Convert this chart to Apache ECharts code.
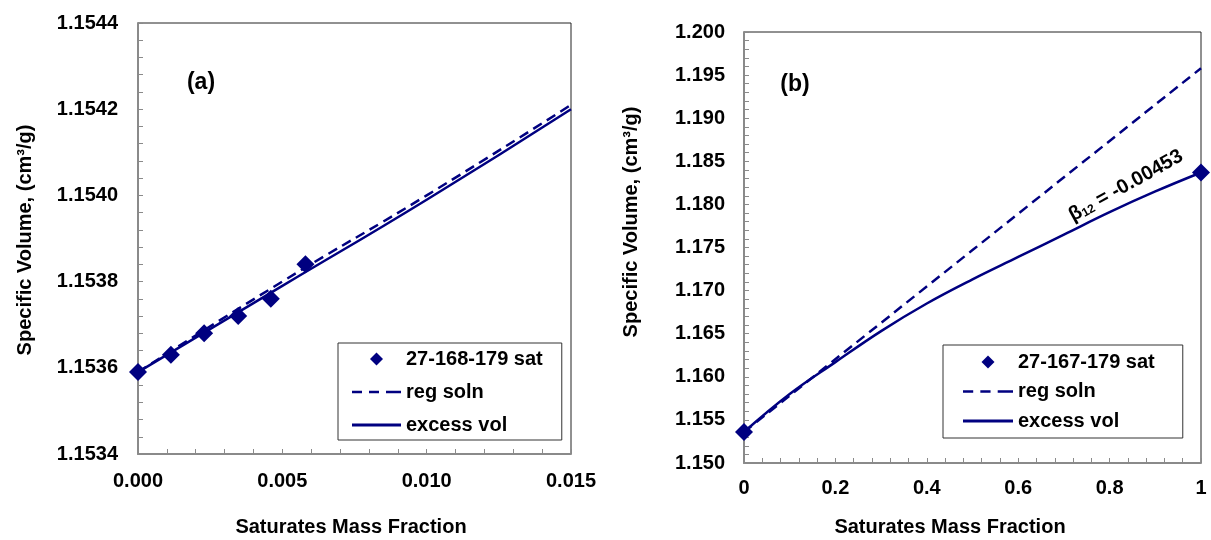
<!DOCTYPE html>
<html>
<head>
<meta charset="utf-8">
<script src="https://cdn.jsdelivr.net/npm/echarts@6/dist/echarts.min.js"></script>
<style>
html,body{margin:0;padding:0;background:#fff;}
#chart{width:1211px;height:540px;}
</style>
</head>
<body>
<div id="chart"></div>
<script>
// ---- Panel (a) data ----
const aSatX = [0, 0.00114, 0.00229, 0.00347, 0.0046, 0.0058];
const aSatY = [1.15359, 1.15363, 1.15368, 1.15372, 1.15376, 1.15384];
const aRegX = [0, 0.005, 0.010, 0.015];
const aRegY = [1.15359, 1.15380, 1.15400, 1.15421];
const aExcX = [0, 0.005, 0.010, 0.015];
const aExcY = [1.15359, 1.15379, 1.15399, 1.15420];
const aYTicks = [1.1534, 1.1536, 1.1538, 1.1540, 1.1542, 1.1544];
const aXTicks = [0, 0.005, 0.010, 0.015];

// ---- Panel (b) data ----
const bSatX = [0, 1];
const bSatY = [1.1536, 1.1837];
const bRegX = [0, 0.5, 1];
const bRegY = [1.1536, 1.1747, 1.1958];
const bExcX = [0, 0.1, 0.2, 0.3, 0.4, 0.5, 0.6, 0.7, 0.8, 0.9, 1.0];
const bExcY = [1.1536, 1.1580, 1.1617, 1.1653, 1.1685, 1.1713, 1.1739, 1.1765, 1.1791, 1.1815, 1.1837];
const bYTicks = [1.150, 1.155, 1.160, 1.165, 1.170, 1.175, 1.180, 1.185, 1.190, 1.195, 1.200];
const bXTicks = [0, 0.2, 0.4, 0.6, 0.8, 1];

const nameA = '27-168-179 sat';
const nameB = '27-167-179 sat';
const regName = 'reg soln';
const excName = 'excess vol';

const zip = (xs, ys) => xs.map((x, i) => [x, ys[i]]);
const FONT = "'Liberation Sans', Arial, sans-serif";
const NAVY = '#000080';

// legend icons
const ICON_DIAMOND = 'path://M0,-1L1,0L0,1L-1,0Z';
const ICON_DASH = 'path://M0,0h10v2.6h-10z M17,0h10v2.6h-10z M34,0h15v2.6h-15z';
const ICON_SOLID = 'path://M0,0h49v2.8h-49z';

function xAxisCfg(idx, min, max, interval, fmt, margin) {
  return {
    gridIndex: idx, type: 'value', min: min, max: max, interval: interval,
    axisLine: {show: true, lineStyle: {color: '#8a8a8a', width: 2}},
    axisTick: {show: true, inside: true, length: 5, lineStyle: {color: '#8a8a8a', width: 1}},
    minorTick: {show: true, splitNumber: 5, length: 5, lineStyle: {color: '#8a8a8a', width: 1}},
    splitLine: {show: false},
    axisLabel: {margin: margin, color: '#000', fontFamily: FONT, fontWeight: 'bold', fontSize: 20, formatter: fmt}
  };
}
function yAxisCfg(idx, min, max, interval, fmt, margin) {
  return {
    gridIndex: idx, type: 'value', min: min, max: max, interval: interval,
    axisLine: {show: true, onZero: false, lineStyle: {color: '#8a8a8a', width: 2}},
    axisTick: {show: true, inside: true, length: 5, lineStyle: {color: '#8a8a8a', width: 1}},
    minorTick: {show: true, splitNumber: 5, length: 5, lineStyle: {color: '#8a8a8a', width: 1}},
    splitLine: {show: false},
    axisLabel: {margin: margin, color: '#000', fontFamily: FONT, fontWeight: 'bold', fontSize: 20, formatter: fmt}
  };
}

const lineStyleDashed = {color: NAVY, width: 2.5, type: [10, 6]};
const lineStyleSolid = {color: NAVY, width: 2.5, type: 'solid'};
const legendText = {color: '#000', fontFamily: FONT, fontWeight: 'bold', fontSize: 20, lineHeight: 24};

function legendData(satName) {
  return [
    {name: satName, icon: ICON_DIAMOND, itemStyle: {color: NAVY, opacity: 1}},
    {name: regName, icon: ICON_DASH, itemStyle: {color: NAVY, opacity: 1, borderWidth: 0}},
    {name: excName, icon: ICON_SOLID, itemStyle: {color: NAVY, opacity: 1, borderWidth: 0}}
  ];
}

const chart = echarts.init(document.getElementById('chart'), null, {renderer: 'canvas'});
const option = {
  animation: false,
  backgroundColor: '#fff',
  grid: [
    {left: 138, top: 23, width: 433, height: 431, show: true, borderColor: '#222', borderWidth: 1, backgroundColor: 'transparent'},
    {left: 744, top: 32, width: 457, height: 431, show: true, borderColor: '#222', borderWidth: 1, backgroundColor: 'transparent'}
  ],
  xAxis: [
    xAxisCfg(0, aXTicks[0], aXTicks[aXTicks.length - 1], 0.005, v => v.toFixed(3), 17),
    xAxisCfg(1, bXTicks[0], bXTicks[bXTicks.length - 1], 0.2, v => (Math.abs(v) < 1e-9 ? '0' : Math.abs(v - 1) < 1e-9 ? '1' : v.toFixed(1)), 15)
  ],
  yAxis: [
    yAxisCfg(0, aYTicks[0], aYTicks[aYTicks.length - 1], 0.0002, v => v.toFixed(4), 20),
    yAxisCfg(1, bYTicks[0], bYTicks[bYTicks.length - 1], 0.005, v => v.toFixed(3), 19)
  ],
  legend: [
    {
      data: legendData(nameA),
      orient: 'vertical', left: 338, top: 343,
      itemWidth: 49, itemHeight: 13, itemGap: 9,
      padding: [4, 19, 3, 14],
      borderColor: '#333', borderWidth: 1, backgroundColor: '#fff',
      textStyle: legendText,
      selectedMode: false
    },
    {
      data: legendData(nameB),
      orient: 'vertical', left: 943, top: 345,
      itemWidth: 50, itemHeight: 13, itemGap: 5.5,
      padding: [5, 28, 5, 20],
      borderColor: '#333', borderWidth: 1, backgroundColor: '#fff',
      textStyle: legendText,
      selectedMode: false
    }
  ],
  series: [
    {name: regName, type: 'line', xAxisIndex: 0, yAxisIndex: 0, data: zip(aRegX, aRegY), smooth: true, showSymbol: false, symbol: 'none', lineStyle: lineStyleDashed, itemStyle: {color: NAVY}, z: 3},
    {name: excName, type: 'line', xAxisIndex: 0, yAxisIndex: 0, data: zip(aExcX, aExcY), smooth: true, showSymbol: false, symbol: 'none', lineStyle: lineStyleSolid, itemStyle: {color: NAVY}, z: 3},
    {name: nameA, type: 'scatter', xAxisIndex: 0, yAxisIndex: 0, data: zip(aSatX, aSatY), symbol: 'diamond', symbolSize: 18, itemStyle: {color: NAVY, opacity: 1}, z: 4},
    {name: regName, type: 'line', xAxisIndex: 1, yAxisIndex: 1, data: zip(bRegX, bRegY), smooth: true, showSymbol: false, symbol: 'none', lineStyle: lineStyleDashed, itemStyle: {color: NAVY}, z: 3},
    {name: excName, type: 'line', xAxisIndex: 1, yAxisIndex: 1, data: zip(bExcX, bExcY), smooth: 0.4, showSymbol: false, symbol: 'none', lineStyle: lineStyleSolid, itemStyle: {color: NAVY}, z: 3},
    {name: nameB, type: 'scatter', xAxisIndex: 1, yAxisIndex: 1, data: zip(bSatX, bSatY), symbol: 'diamond', symbolSize: 18, itemStyle: {color: NAVY, opacity: 1}, z: 4}
  ],
  graphic: [
    {type: 'text', x: 201, y: 83, style: {text: '(a)', fill: '#000', font: "bold 23px " + FONT, textAlign: 'center', textVerticalAlign: 'middle'}},
    {type: 'text', x: 795, y: 85, style: {text: '(b)', fill: '#000', font: "bold 23px " + FONT, textAlign: 'center', textVerticalAlign: 'middle'}},
    {type: 'text', x: 25, y: 240, rotation: Math.PI / 2, style: {text: 'Specific Volume, (cm³/g)', fill: '#000', font: "bold 20px " + FONT, textAlign: 'center', textVerticalAlign: 'middle'}},
    {type: 'text', x: 631, y: 222, rotation: Math.PI / 2, style: {text: 'Specific Volume, (cm³/g)', fill: '#000', font: "bold 20px " + FONT, textAlign: 'center', textVerticalAlign: 'middle'}},
    {type: 'text', x: 351, y: 527, style: {text: 'Saturates Mass Fraction', fill: '#000', font: "bold 20px " + FONT, textAlign: 'center', textVerticalAlign: 'middle'}},
    {type: 'text', x: 950, y: 527, style: {text: 'Saturates Mass Fraction', fill: '#000', font: "bold 20px " + FONT, textAlign: 'center', textVerticalAlign: 'middle'}},
    {type: 'text', x: 1125, y: 184, rotation: 29 * Math.PI / 180, z: 10,
      style: {
        text: '{b|β}{s|12}{b| = -0.00453}',
        textAlign: 'center', textVerticalAlign: 'middle',
        rich: {
          b: {fill: '#000', fontFamily: FONT, fontWeight: 'bold', fontSize: 20, lineHeight: 24, verticalAlign: 'bottom'},
          s: {fill: '#000', fontFamily: FONT, fontWeight: 'bold', fontSize: 12, lineHeight: 24, verticalAlign: 'bottom', padding: [6, 0, 0, 0]}
        }
      }}
  ]
};
chart.setOption(option);
</script>
</body>
</html>
